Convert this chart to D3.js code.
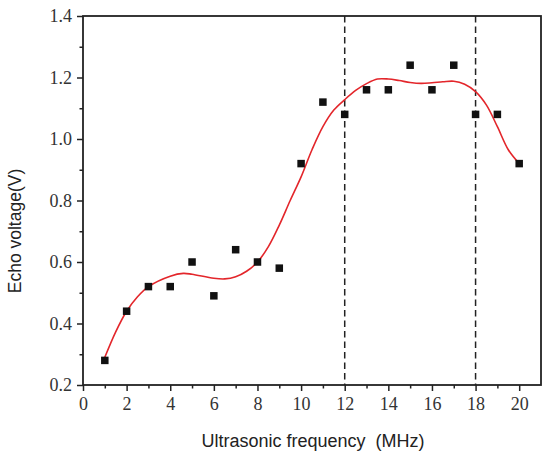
<!DOCTYPE html>
<html>
<head>
<meta charset="UTF-8" />
<title>Echo voltage vs frequency</title>
<script src="https://cdn.jsdelivr.net/npm/d3@7/dist/d3.min.js"></script>
<style>
	body { margin: 0; background: #fff; }
</style>
</head>
<body>
<div id="chart"></div>
<script>
// measured points
var freq = [1,2,3,4,5,6,7,8,9,10,11,12,13,14,15,16,17,18,19,20];
var voltage = [0.28,0.44,0.52,0.52,0.60,0.49,0.64,0.60,0.58,0.92,1.12,1.08,1.16,1.16,1.24,1.16,1.24,1.08,1.08,0.92];

// fitted curve
var fitX = [1,1.5,2,2.5,3,4,4.6,5,6,6.5,7,7.5,8,8.5,9,9.5,10,10.5,11,11.5,12,12.5,13,13.5,14,14.5,15,15.5,16,16.5,17,17.5,18,18.5,19,19.5,20];
var fitY = [0.29,0.373,0.44,0.487,0.52,0.554,0.563,0.56,0.547,0.545,0.552,0.57,0.60,0.65,0.72,0.80,0.877,0.965,1.04,1.094,1.128,1.158,1.18,1.195,1.195,1.19,1.184,1.181,1.183,1.186,1.188,1.178,1.154,1.11,1.04,0.965,0.92];

// dashed markers
var guideX = [12, 18];

var xTicks = [0,2,4,6,8,10,12,14,16,18,20];
var yTicks = [0.2,0.4,0.6,0.8,1.0,1.2,1.4];
var xMinor = [1,3,5,7,9,11,13,15,17,19];
var yMinor = [0.3,0.5,0.7,0.9,1.1,1.3];

var W = 550, H = 458;
var m = {top: 16, right: 9, bottom: 73, left: 83};
var iw = W - m.left - m.right, ih = H - m.top - m.bottom;
var SERIF = "'Liberation Serif', 'Times New Roman', serif";
var SANS = "'Liberation Sans', Arial, sans-serif";

var svg = d3.select("#chart").append("svg")
	.attr("width", W).attr("height", H);
var g = svg.append("g").attr("transform", "translate(" + m.left + "," + m.top + ")");

var x = d3.scaleLinear().domain([0, 21]).range([0, iw]);
var y = d3.scaleLinear().domain([0.2, 1.4]).range([ih, 0]);

function styleAxis(s) {
	s.select(".domain").remove();
	s.selectAll("line").attr("stroke", "#222").attr("stroke-width", 1.5);
	s.selectAll("text").style("font-family", SERIF).style("font-size", "18px").attr("fill", "#333");
}

// minor ticks first
g.append("g").attr("transform", "translate(0," + ih + ")")
	.call(d3.axisBottom(x).tickValues(xMinor).tickSize(3.5).tickFormat(""))
	.call(styleAxis);
g.append("g")
	.call(d3.axisLeft(y).tickValues(yMinor).tickSize(3.5).tickFormat(""))
	.call(styleAxis);

// major ticks
g.append("g").attr("transform", "translate(0," + ih + ")")
	.call(d3.axisBottom(x).tickValues(xTicks).tickSize(6).tickPadding(6).tickFormat(d3.format("d")))
	.call(styleAxis);

g.append("g")
	.call(d3.axisLeft(y).tickValues(yTicks).tickSize(6).tickPadding(5).tickFormat(d3.format(".1f")))
	.call(styleAxis);

// frame
g.append("rect").attr("width", iw).attr("height", ih)
	.attr("fill", "none").attr("stroke", "#222").attr("stroke-width", 1.8);

// dashed guides
g.selectAll(".guide").data(guideX).enter().append("line")
	.attr("class", "guide")
	.attr("x1", function(d){ return x(d); }).attr("x2", function(d){ return x(d); })
	.attr("y1", 0).attr("y2", ih)
	.attr("stroke", "#222").attr("stroke-width", 1.5).attr("stroke-dasharray", "6.5,4");

// fit curve
var fit = fitX.map(function(d, i){ return [d, fitY[i]]; });
g.append("path").datum(fit)
	.attr("fill", "none").attr("stroke", "#e3262b").attr("stroke-width", 1.6)
	.attr("d", d3.line().x(function(d){ return x(d[0]); }).y(function(d){ return y(d[1]); }).curve(d3.curveCatmullRom));

// squares
var s = 7.5;
g.selectAll(".pt").data(freq).enter().append("rect")
	.attr("class", "pt")
	.attr("x", function(d){ return x(d) - s/2; })
	.attr("y", function(d, i){ return y(voltage[i]) - s/2; })
	.attr("width", s).attr("height", s).attr("fill", "#111");

// titles
svg.append("text")
	.attr("x", m.left + iw/2 + 1).attr("y", 447).attr("text-anchor", "middle")
	.style("font-family", SANS).style("font-size", "18px").style("white-space", "pre").attr("fill", "#222")
	.text("Ultrasonic frequency  (MHz)");
svg.append("text")
	.attr("transform", "translate(21,231) rotate(-90)").attr("text-anchor", "middle")
	.style("font-family", SANS).style("font-size", "17.5px").attr("fill", "#222")
	.text("Echo voltage(V)");
</script>
</body>
</html>
